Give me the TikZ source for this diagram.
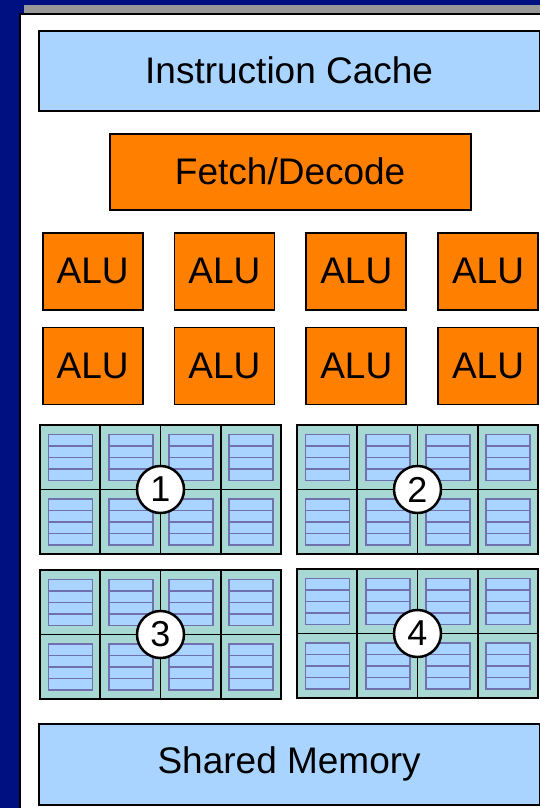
\documentclass[tikz,border=0pt]{standalone}
\usepackage{fontspec}
\setmainfont{Liberation Sans}
\usetikzlibrary{positioning}
\definecolor{slidenavy}{RGB}{0,16,128}
\definecolor{memblue}{RGB}{168,212,255}
\definecolor{aluorange}{RGB}{255,128,0}
\definecolor{regteal}{RGB}{168,216,212}
\definecolor{regline}{RGB}{112,112,176}
\definecolor{stripgray}{RGB}{153,153,153}

\begin{document}
\begin{tikzpicture}[
        x=1pt, y=-1pt,
        node distance=16pt and 30pt,
        box/.style={rectangle,draw,line width=1.8pt,inner sep=0pt,font=\fontsize{37}{40}\selectfont},
        memory/.style={box,fill=memblue,minimum width=501pt,minimum height=80pt},
        alu/.style={box,fill=aluorange,minimum width=100pt,minimum height=77pt},
        bankno/.style={circle,draw,line width=2.5pt,fill=white,minimum size=47pt,inner sep=0pt,font=\fontsize{36}{36}\selectfont}
    ]
        \useasboundingbox (0,0) rectangle (540,808);
        % slide background
        \fill[slidenavy] (0,0) rectangle (540,808);
        \fill[stripgray] (24,5) rectangle (545,13);
        \filldraw[fill=white,line width=2pt] (20,14) rectangle (550,820);

        \node[memory, anchor=north west] (icache) at (37.75,29.75) {Instruction Cache};
        \node[box, fill=aluorange, minimum width=361pt, minimum height=76pt, anchor=north west] (fetch) at (108.75,132.75) {Fetch/Decode};

        \node[alu, anchor=north west] (alu1) at (41.75,231.75) {ALU};
        \node[alu, right=of alu1] (alu2) {ALU};
        \node[alu, right=of alu2] (alu3) {ALU};
        \node[alu, right=of alu3] (alu4) {ALU};
        \node[alu, below=of alu1] (alu5) {ALU};
        \node[alu, right=of alu5] (alu6) {ALU};
        \node[alu, right=of alu6] (alu7) {ALU};
        \node[alu, right=of alu7] (alu8) {ALU};

        % register banks
        \foreach \gx/\gy/\num in {40/425/1,297/425/2,40/570/3,297/569/4} {
            \foreach \i in {0,...,3} {
                \foreach \j in {0,1} {
                    \filldraw[fill=regteal,line width=1.8pt] ({\gx+\i*60.25},{\gy+\j*64.5}) rectangle +(60.25,64.5);
                    \filldraw[fill=memblue,draw=regline,line width=1.8pt] ({\gx+\i*60.25+8.5},{\gy+\j*64.5+9.5}) rectangle +(44,46);
                    \foreach \k in {1,2,3}
                        \draw[regline,line width=1.8pt] ({\gx+\i*60.25+8.5},{\gy+\j*64.5+9.5+\k*11.5}) -- +(44,0);
                }
            }
            \node[bankno] (bank\num) at ({\gx+120.5},{\gy+64.5}) {\num};
        }

        \node[memory, anchor=north west, minimum height=81pt] (shmem) at (37.75,722.75) {Shared Memory};
    \end{tikzpicture}
\end{document}
